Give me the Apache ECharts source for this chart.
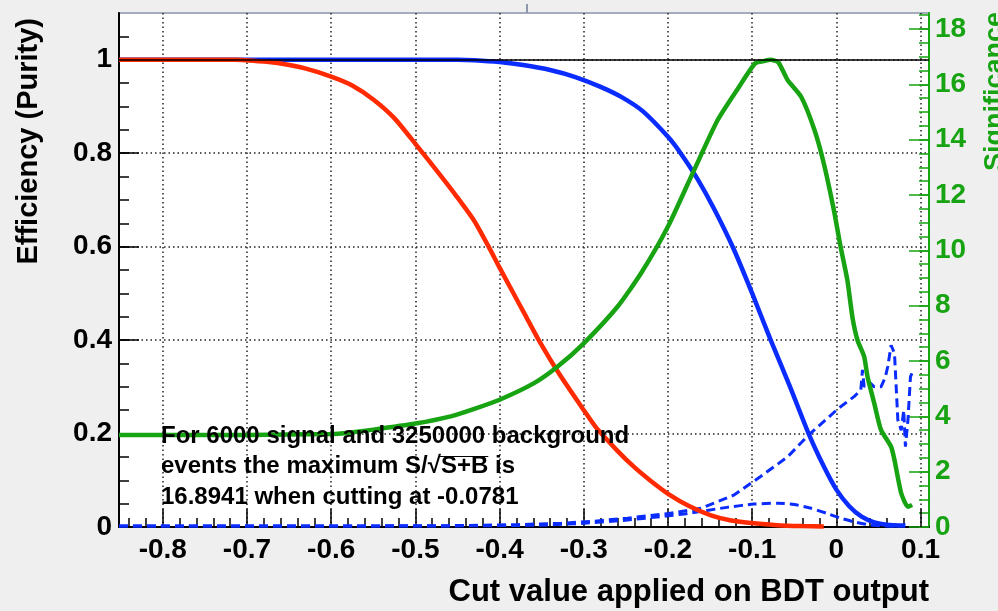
<!DOCTYPE html>
<html>
<head>
<meta charset="utf-8">
<script src="https://cdn.jsdelivr.net/npm/echarts@6.0.0/dist/echarts.min.js"></script>
<style>
  html, body { margin: 0; padding: 0; background: #efefef; }
  #chart { width: 998px; height: 611px; }
</style>
</head>
<body>
<div id="chart"></div>
<script>
// axis ranges (frame edges)
const xMin = -0.852;
const xMax = 0.110;
const effMax = 1.1;
const sigMax = 18.58;

// tick labels
const xTicks = [-0.8, -0.7, -0.6, -0.5, -0.4, -0.3, -0.2, -0.1, 0, 0.1];
const effTicks = [0, 0.2, 0.4, 0.6, 0.8, 1];
const sigTicks = [0, 2, 4, 6, 8, 10, 12, 14, 16, 18];

// background efficiency (red)
const bkgEffX = [-0.852, -0.714, -0.68, -0.66, -0.63, -0.6, -0.575, -0.55, -0.525, -0.5, -0.47, -0.45, -0.43, -0.413, -0.4, -0.385, -0.37, -0.355, -0.33, -0.3, -0.285, -0.26, -0.24, -0.22, -0.199, -0.175, -0.149, -0.125, -0.098, -0.07, -0.04, -0.015];
const bkgEffY = [1, 1, 0.996, 0.992, 0.981, 0.964, 0.945, 0.915, 0.875, 0.82, 0.752, 0.705, 0.655, 0.6, 0.555, 0.505, 0.455, 0.405, 0.33, 0.25, 0.212, 0.163, 0.128, 0.098, 0.07, 0.045, 0.025, 0.014, 0.008, 0.004, 0.002, 0.001];

// signal efficiency (blue)
const sigEffX = [-0.852, -0.45, -0.43, -0.4, -0.37, -0.34, -0.31, -0.28, -0.255, -0.23, -0.2, -0.185, -0.165, -0.145, -0.122, -0.1, -0.078, -0.055, -0.033, -0.015, 0, 0.015, 0.03, 0.045, 0.06, 0.082];
const sigEffY = [1, 1, 0.999, 0.995, 0.988, 0.978, 0.963, 0.942, 0.92, 0.89, 0.835, 0.8, 0.745, 0.68, 0.595, 0.5, 0.4, 0.3, 0.2, 0.13, 0.08, 0.045, 0.022, 0.01, 0.005, 0.003];

// signal purity (blue dashed)
const purityX = [-0.852, -0.6, -0.45, -0.38, -0.327, -0.29, -0.248, -0.199, -0.161, -0.122, -0.09, -0.058, -0.034, 0.0025, 0.021, 0.029, 0.031, 0.033, 0.039, 0.045, 0.053, 0.058, 0.061, 0.065, 0.069, 0.073, 0.077, 0.08, 0.082, 0.085, 0.088, 0.09];
const purityY = [0.002, 0.002, 0.003, 0.005, 0.008, 0.012, 0.019, 0.029, 0.04, 0.068, 0.108, 0.15, 0.195, 0.254, 0.279, 0.293, 0.336, 0.3, 0.31, 0.3, 0.3, 0.32, 0.343, 0.389, 0.372, 0.229, 0.207, 0.25, 0.172, 0.229, 0.322, 0.33];

// signal efficiency * purity (blue dashed)
const effPurX = [-0.852, -0.5, -0.35, -0.3, -0.248, -0.2, -0.177, -0.13, -0.098, -0.07, -0.05, -0.03, -0.011, 0.005, 0.021, 0.041, 0.06, 0.075];
const effPurY = [0.002, 0.002, 0.004, 0.008, 0.015, 0.024, 0.029, 0.042, 0.049, 0.051, 0.048, 0.04, 0.029, 0.019, 0.011, 0.004, 0.002, 0.001];

// significance S/sqrt(S+B) (green, right axis)
const signifX = [-0.852, -0.7, -0.6, -0.577, -0.55, -0.5, -0.458, -0.43, -0.4, -0.359, -0.331, -0.3, -0.26, -0.232, -0.2, -0.169, -0.141, -0.118, -0.0965, -0.085, -0.0781, -0.069, -0.058, -0.042, -0.026, -0.015, -0.003, 0.005, 0.013, 0.019, 0.025, 0.033, 0.037, 0.045, 0.053, 0.065, 0.069, 0.077, 0.085, 0.09];
const signifY = [3.33, 3.33, 3.36, 3.42, 3.52, 3.74, 4.0, 4.27, 4.6, 5.2, 5.8, 6.64, 7.96, 9.17, 10.86, 12.9, 14.71, 15.8, 16.76, 16.85, 16.89, 16.8, 16.16, 15.56, 14.35, 13.15, 11.46, 10.13, 8.93, 7.6, 6.76, 6.16, 5.43, 4.47, 3.51, 2.9, 2.42, 1.22, 0.73, 0.8];

const FONT = '"Liberation Sans", Arial, Helvetica, sans-serif';
const RED = '#ff2a00';
const BLUE = '#0a2cff';
const GREEN = '#17a312';

function pairs(xs, ys) {
  return xs.map((x, i) => [x, ys[i]]);
}

function steps(from, to, step) {
  const out = [];
  for (let v = from; v <= to + 1e-9; v += step) out.push(Math.round(v * 1000) / 1000);
  return out;
}

const xMinor = steps(-0.84, 0.10, 0.02);
const effMinor = steps(0, 1.05, 0.05);
const sigMinor = steps(0, 18.5, 0.5);

// text box (the "S+B" gets an overline like ROOT's #sqrt)
const boxFont = 'bold 24px ' + FONT;
const boxLeft = 161, boxTop = 421, boxLine = 30.5;
const ctx = document.createElement('canvas').getContext('2d');
ctx.font = boxFont;
const sqrtStart = ctx.measureText('events the maximum S/\u221A').width;
const sqrtLen = ctx.measureText('S+B').width;

const chart = echarts.init(document.getElementById('chart'));

const option = {
  animation: false,
  backgroundColor: '#efefef',
  grid: {
    left: 119, right: 69, top: 13, bottom: 84,
    show: true, backgroundColor: '#ffffff',
    borderColor: '#a3abbd', borderWidth: 2
  },
  xAxis: [
    {
      type: 'value', min: xMin, max: xMax, position: 'bottom',
      axisLine: { onZero: false, lineStyle: { color: '#000', width: 2 } },
      axisTick: { customValues: xTicks, inside: true, length: 18, lineStyle: { color: '#000', width: 1.5 } },
      axisLabel: {
        customValues: xTicks, margin: 9, color: '#000',
        fontFamily: FONT, fontWeight: 'bold', fontSize: 28
      },
      splitLine: { show: true, lineStyle: { color: '#222', width: 1.5, type: [1.5, 3] } }
    },
    {
      type: 'value', min: xMin, max: xMax, position: 'bottom',
      axisLine: { show: false },
      axisTick: { customValues: xMinor, inside: true, length: 9, lineStyle: { color: '#000', width: 1.5 } },
      axisLabel: { show: false },
      splitLine: { show: false }
    }
  ],
  yAxis: [
    {
      type: 'value', min: 0, max: effMax, position: 'left',
      axisLine: { show: true, onZero: false, lineStyle: { color: '#000', width: 2 } },
      axisTick: { show: true, customValues: effTicks, inside: true, length: 20, lineStyle: { color: '#000', width: 1.5 } },
      axisLabel: {
        customValues: effTicks, margin: 7, color: '#000',
        fontFamily: FONT, fontWeight: 'bold', fontSize: 28
      },
      splitLine: { show: true, lineStyle: { color: '#222', width: 1.5, type: [1.5, 3] } }
    },
    {
      type: 'value', min: 0, max: sigMax, position: 'right',
      axisLine: { show: true, onZero: false, lineStyle: { color: GREEN, width: 2 } },
      axisTick: { show: true, customValues: sigTicks, inside: true, length: 20, lineStyle: { color: GREEN, width: 1.5 } },
      axisLabel: {
        customValues: sigTicks, margin: 6, color: GREEN,
        fontFamily: FONT, fontWeight: 'bold', fontSize: 28
      },
      splitLine: { show: false }
    },
    {
      type: 'value', min: 0, max: effMax, position: 'left',
      axisLine: { show: false, onZero: false },
      axisTick: { show: true, customValues: effMinor, inside: true, length: 10, lineStyle: { color: '#000', width: 1.5 } },
      axisLabel: { show: false },
      splitLine: { show: false }
    },
    {
      type: 'value', min: 0, max: sigMax, position: 'right',
      axisLine: { show: false, onZero: false },
      axisTick: { show: true, customValues: sigMinor, inside: true, length: 10, lineStyle: { color: GREEN, width: 1.5 } },
      axisLabel: { show: false },
      splitLine: { show: false }
    }
  ],
  series: [
    {
      name: 'purity', type: 'line', yAxisIndex: 0, showSymbol: false,
      data: pairs(purityX, purityY),
      lineStyle: { color: BLUE, width: 3, type: [9, 5] }
    },
    {
      name: 'eff*purity', type: 'line', yAxisIndex: 0, showSymbol: false,
      smooth: 0.2,
      data: pairs(effPurX, effPurY),
      lineStyle: { color: BLUE, width: 3, type: [9, 5] }
    },
    {
      name: 'signal eff', type: 'line', yAxisIndex: 0, showSymbol: false,
      smooth: 0.2,
      data: pairs(sigEffX, sigEffY),
      lineStyle: { color: BLUE, width: 4.5 }
    },
    {
      name: 'background eff', type: 'line', yAxisIndex: 0, showSymbol: false,
      smooth: 0.2,
      data: pairs(bkgEffX, bkgEffY),
      lineStyle: { color: RED, width: 4.5 }
    },
    {
      name: 'significance', type: 'line', yAxisIndex: 1, showSymbol: false,
      smooth: 0.2,
      data: pairs(signifX, signifY),
      lineStyle: { color: GREEN, width: 4.5 }
    },
    {
      // y = 1 reference line on the efficiency axis
      name: 'ref', type: 'line', yAxisIndex: 0, data: [],
      markLine: {
        silent: true, symbol: 'none', label: { show: false },
        lineStyle: { color: '#000', width: 1.5, type: 'solid' },
        data: [{ yAxis: 1 }]
      }
    }
  ],
  graphic: [
    {
      type: 'line', silent: true,
      shape: { x1: 527, y1: 4, x2: 527, y2: 13 },
      style: { stroke: '#8f98aa', lineWidth: 2 }
    },
    {
      type: 'text', x: 29, y: 18, rotation: Math.PI / 2,
      style: {
        text: 'Efficiency (Purity)', fill: '#000', font: 'bold 29px ' + FONT,
        textAlign: 'right', textVerticalAlign: 'middle'
      }
    },
    {
      type: 'text', x: 996, y: 12, rotation: Math.PI / 2,
      style: {
        text: 'Significance', fill: GREEN, font: 'bold 27px ' + FONT,
        textAlign: 'right', textVerticalAlign: 'middle'
      }
    },
    {
      type: 'text', x: 929, y: 592,
      style: {
        text: 'Cut value applied on BDT output', fill: '#000', font: 'bold 31px ' + FONT,
        textAlign: 'right', textVerticalAlign: 'middle'
      }
    },
    {
      type: 'text', x: boxLeft, y: boxTop, z: 10,
      style: {
        text: 'For 6000 signal and 3250000 background\nevents the maximum S/\u221AS+B is\n16.8941 when cutting at -0.0781',
        fill: '#000', font: boxFont, lineHeight: boxLine,
        textAlign: 'left', textVerticalAlign: 'top'
      }
    },
    {
      type: 'line', silent: true, z: 10,
      shape: {
        x1: boxLeft + sqrtStart - 2, y1: boxTop + boxLine + 5,
        x2: boxLeft + sqrtStart + sqrtLen, y2: boxTop + boxLine + 5
      },
      style: { stroke: '#000', lineWidth: 1.2 }
    }
  ]
};

chart.setOption(option);
</script>
</body>
</html>
